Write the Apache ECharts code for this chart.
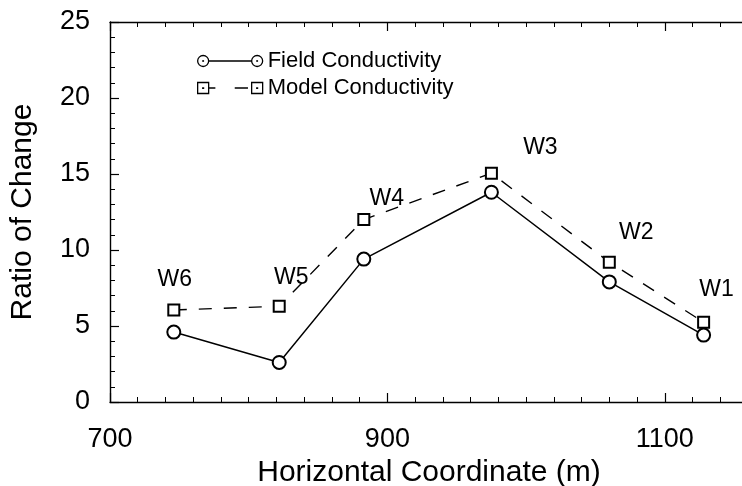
<!DOCTYPE html>
<html>
<head>
<meta charset="utf-8">
<script src="https://cdn.jsdelivr.net/npm/echarts@6/dist/echarts.min.js"></script>
<style>
  html, body { margin: 0; padding: 0; background: #fff; }
  #chart { width: 742px; height: 486px; }
</style>
</head>
<body>
<div id="chart"></div>
<script>
// Well locations along the section and the ratio of change at each well
const wellNames = ['W6', 'W5', 'W4', 'W3', 'W2', 'W1'];
const wellX = [746, 822, 883, 975, 1060, 1128];
const fieldRatio = [4.6, 2.6, 9.4, 13.8, 7.9, 4.4];
const modelRatio = [6.05, 6.3, 12.0, 15.05, 9.2, 5.25];
const xTickLabels = [700, 900, 1100];
const yTickLabels = [0, 5, 10, 15, 20, 25];

const FONT = 'Liberation Sans, Arial, Helvetica, sans-serif';

// Label placement for each well name, relative to its model point
const wellLabelShift = [[1, -30], [12, -29], [23, -21], [49, -26], [27, -30], [13, -33]];

// Legend icons: marker - line - marker, scaled into the legend item box
const fieldIcon = 'path://M0.6,6A5.4,5.4 0 1,1 11.4,6A5.4,5.4 0 1,1 0.6,6Z' +
  'M5.6,6A0.4,0.4 0 1,1 6.4,6A0.4,0.4 0 1,1 5.6,6Z' +
  'M11.4,6L53.6,6' +
  'M53.6,6A5.4,5.4 0 1,1 64.4,6A5.4,5.4 0 1,1 53.6,6Z' +
  'M58.6,6A0.4,0.4 0 1,1 59.4,6A0.4,0.4 0 1,1 58.6,6Z';
const modelIcon = 'path://M0.6,0.6L11.4,0.6L11.4,11.4L0.6,11.4Z' +
  'M5.6,6L5.6,6.4L6.4,6.4L6.4,6Z' +
  'M11.4,6L18,6M37,6L50,6' +
  'M53.6,0.6L64.4,0.6L64.4,11.4L53.6,11.4Z' +
  'M58.6,6L58.6,6.4L59.4,6.4L59.4,6Z';

const fieldData = wellX.map((x, i) => [x, fieldRatio[i]]);
const modelData = wellX.map((x, i) => ({
  value: [x, modelRatio[i]],
  label: { offset: wellLabelShift[i] }
}));

const chart = echarts.init(document.getElementById('chart'), null, { renderer: 'canvas' });

const axisCommon = {
  axisLine: { show: true, lineStyle: { color: '#000', width: 1.4 } },
  axisTick: { show: true, inside: true, length: 9, lineStyle: { color: '#000', width: 1.2 } },
  minorTick: { show: true, length: 5, lineStyle: { color: '#000', width: 1 } },
  splitLine: { show: false }
};

chart.setOption({
  animation: false,
  backgroundColor: '#fff',
  grid: {
    left: 110, top: 22, width: 638, height: 380,
    containLabel: false,
    outerBoundsMode: 'none'
  },
  legend: {
    left: 192,
    top: 45,
    orient: 'vertical',
    itemWidth: 65,
    itemHeight: 12,
    itemGap: 5,
    selectedMode: false,
    textStyle: { fontFamily: FONT, fontSize: 22, color: '#000' },
    itemStyle: { color: 'transparent', borderColor: '#000', borderWidth: 1.3 },
    data: [
      { name: 'Field Conductivity', icon: fieldIcon },
      { name: 'Model Conductivity', icon: modelIcon }
    ]
  },
  xAxis: [
    Object.assign({}, axisCommon, {
      type: 'value',
      position: 'bottom',
      min: 700,
      max: 1160,
      interval: 200,
      minorTick: Object.assign({}, axisCommon.minorTick, { splitNumber: 10 }),
      name: 'Horizontal Coordinate (m)',
      nameLocation: 'middle',
      nameGap: 40,
      nameTextStyle: { fontFamily: FONT, fontSize: 30, color: '#000' },
      axisLabel: {
        fontFamily: FONT, fontSize: 27, color: '#000', margin: 24,
        formatter: v => (xTickLabels.indexOf(v) >= 0 ? String(v) : '')
      }
    }),
    Object.assign({}, axisCommon, {
      type: 'value',
      position: 'top',
      min: 700,
      max: 1160,
      interval: 200,
      minorTick: Object.assign({}, axisCommon.minorTick, { splitNumber: 10 }),
      axisLabel: { show: false }
    })
  ],
  yAxis: Object.assign({}, axisCommon, {
    type: 'value',
    min: 0,
    max: 25,
    interval: 5,
    minorTick: Object.assign({}, axisCommon.minorTick, { splitNumber: 5 }),
    name: 'Ratio of Change',
    nameLocation: 'middle',
    nameGap: 72,
    nameTextStyle: { fontFamily: FONT, fontSize: 30, color: '#000' },
    axisLabel: {
      fontFamily: FONT, fontSize: 27, color: '#000', margin: 20,
      formatter: v => (yTickLabels.indexOf(v) >= 0 ? String(v) : '')
    }
  }),
  series: [
    {
      name: 'Field Conductivity',
      type: 'line',
      data: fieldData,
      symbol: 'emptyCircle',
      symbolSize: 13,
      lineStyle: { color: '#000', width: 1.5 },
      itemStyle: { color: '#000', borderColor: '#000', borderWidth: 1.5 },
      z: 3
    },
    {
      name: 'Model Conductivity',
      type: 'line',
      data: modelData,
      symbol: 'emptyRect',
      symbolSize: 11,
      lineStyle: { color: '#000', width: 1.4, type: [13, 12] },
      itemStyle: { color: '#000', borderColor: '#000', borderWidth: 1.4 },
      label: {
        show: true,
        position: 'inside',
        formatter: p => wellNames[p.dataIndex],
        fontFamily: FONT,
        fontSize: 23,
        color: '#000'
      },
      z: 4
    }
  ]
});
</script>
</body>
</html>
